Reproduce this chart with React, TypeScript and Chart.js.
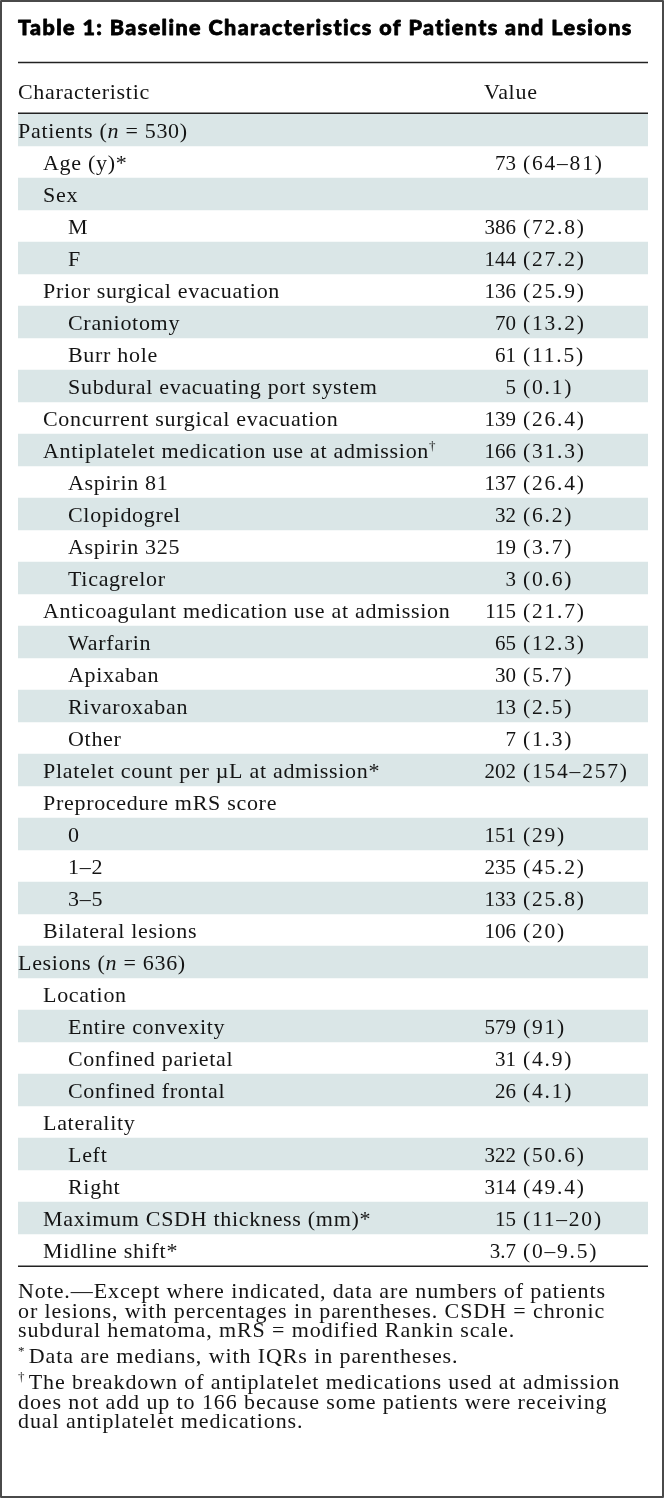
import React, { useEffect, useRef } from "react";
import { Chart, registerables } from "chart.js";

Chart.register(...registerables);

// ---------- data ----------
const TITLE = "Table 1: Baseline Characteristics of Patients and Lesions";
const HEADERS = ["Characteristic", "Value"];

const CHARACTERISTICS = [
  "Patients (_n_ = 530)",
  "Age (y)*",
  "Sex",
  "M",
  "F",
  "Prior surgical evacuation",
  "Craniotomy",
  "Burr hole",
  "Subdural evacuating port system",
  "Concurrent surgical evacuation",
  "Antiplatelet medication use at admission^{†}",
  "Aspirin 81",
  "Clopidogrel",
  "Aspirin 325",
  "Ticagrelor",
  "Anticoagulant medication use at admission",
  "Warfarin",
  "Apixaban",
  "Rivaroxaban",
  "Other",
  "Platelet count per µL at admission*",
  "Preprocedure mRS score",
  "0",
  "1–2",
  "3–5",
  "Bilateral lesions",
  "Lesions (_n_ = 636)",
  "Location",
  "Entire convexity",
  "Confined parietal",
  "Confined frontal",
  "Laterality",
  "Left",
  "Right",
  "Maximum CSDH thickness (mm)*",
  "Midline shift*",
];

const LEVELS = [0, 1, 1, 2, 2, 1, 2, 2, 2, 1, 1, 2, 2, 2, 2, 1, 2, 2, 2, 2, 1, 1, 2, 2, 2, 1, 0, 1, 2, 2, 2, 1, 2, 2, 1, 1];

const COUNTS = [
  "", "73", "", "386", "144", "136", "70", "61", "5", "139",
  "166", "137", "32", "19", "3", "115", "65", "30", "13", "7",
  "202", "", "151", "235", "133", "106", "", "", "579", "31",
  "26", "", "322", "314", "15", "3.7",
];

const SPREADS = [
  "", "(64–81)", "", "(72.8)", "(27.2)", "(25.9)", "(13.2)", "(11.5)", "(0.1)", "(26.4)",
  "(31.3)", "(26.4)", "(6.2)", "(3.7)", "(0.6)", "(21.7)", "(12.3)", "(5.7)", "(2.5)", "(1.3)",
  "(154–257)", "", "(29)", "(45.2)", "(25.8)", "(20)", "", "", "(91)", "(4.9)",
  "(4.1)", "", "(50.6)", "(49.4)", "(11–20)", "(0–9.5)",
];

const NOTES = [
  [
    "Note.—Except where indicated, data are numbers of patients",
    "or lesions, with percentages in parentheses. CSDH = chronic",
    "subdural hematoma, mRS = modified Rankin scale.",
  ],
  ["^{* }Data are medians, with IQRs in parentheses."],
  [
    "^{† }The breakdown of antiplatelet medications used at admission",
    "does not add up to 166 because some patients were receiving",
    "dual antiplatelet medications.",
  ],
];

// ---------- style ----------
const W = 666;
const H = 1499;
const SERIF = '"Liberation Serif", "Times New Roman", serif';
const SANS = '"Lato Black", Lato, "Noto Sans", "DejaVu Sans", sans-serif';
const INK = "#141414";
const SHADE = "#dae6e7";
const RULE = "#222222";
const BORDER = "#4a4a4a";
const LEFT = 18;
const RIGHT = 648;
const INDENT = 25;
const BODY_SIZE = 22;
const BODY_SPACING = 0.7;
const NOTE_SPACING = 0.9;
const COUNT_SIZE = 21;
const SPREAD_SIZE = 21.5;
const VALUE_RIGHT = 516;
const SPREAD_LEFT = 523;
const SPREAD_SPACING = 1.8;
const HEADER_VALUE_X = 484;

type Seg = { t: string; k: "n" | "i" | "s" };

function parseRich(s: string): Seg[] {
  const out: Seg[] = [];
  const re = /_([^_]+)_|\^\{([^}]*)\}/g;
  let last = 0;
  let m: RegExpExecArray | null;
  while ((m = re.exec(s))) {
    if (m.index > last) out.push({ t: s.slice(last, m.index), k: "n" });
    if (m[1] !== undefined) out.push({ t: m[1], k: "i" });
    else out.push({ t: m[2], k: "s" });
    last = re.lastIndex;
  }
  if (last < s.length) out.push({ t: s.slice(last), k: "n" });
  return out;
}

const plain = (s: string) => parseRich(s).map((p) => p.t).join("");

function setSpacing(ctx: any, px: number) {
  if ("letterSpacing" in ctx) ctx.letterSpacing = `${px}px`;
}

function drawRich(ctx: CanvasRenderingContext2D, s: string, x: number, y: number, size: number, spacing: number) {
  for (const p of parseRich(s)) {
    const fs = p.k === "s" ? Math.round(size * 0.6) : size;
    ctx.font = `${p.k === "i" ? "italic " : ""}${fs}px ${SERIF}`;
    setSpacing(ctx, p.k === "s" ? 0.5 : spacing);
    const dy = p.k === "s" ? -size * 0.36 : 0;
    ctx.fillText(p.t, x, y + dy);
    x += ctx.measureText(p.t).width;
  }
  return x;
}

const tablePlugin = {
  id: "tableText",
  beforeDraw(chart: any) {
    const ctx = chart.ctx as CanvasRenderingContext2D;
    ctx.save();
    ctx.fillStyle = "#ffffff";
    ctx.fillRect(0, 0, chart.width, chart.height);
    ctx.restore();
  },
  afterDatasetsDraw(chart: any) {
    const ctx = chart.ctx as CanvasRenderingContext2D;
    const yScale = chart.scales.y;
    const area = chart.chartArea;
    ctx.save();
    ctx.textBaseline = "alphabetic";

    // title, fitted to the text block width, slightly emboldened
    ctx.textAlign = "left";
    ctx.font = `900 21.5px ${SANS}`;
    setSpacing(ctx, 0);
    const tw = ctx.measureText(TITLE).width;
    const titleTarget = 614;
    setSpacing(ctx, Math.max(-1.5, Math.min(3, (titleTarget - tw) / (TITLE.length - 1))));
    ctx.fillStyle = "#000";
    ctx.strokeStyle = "#000";
    ctx.lineWidth = 0.8;
    ctx.lineJoin = "round";
    ctx.fillText(TITLE, LEFT, 35);
    ctx.strokeText(TITLE, LEFT, 35);
    ctx.fillStyle = INK;

    // rules
    ctx.strokeStyle = RULE;
    ctx.lineWidth = 1.5;
    const hline = (y: number) => {
      ctx.beginPath();
      ctx.moveTo(LEFT, y);
      ctx.lineTo(RIGHT, y);
      ctx.stroke();
    };
    hline(62.5);
    hline(area.top - 0.8);
    hline(area.bottom + 0.2);

    // header
    drawRich(ctx, HEADERS[0], LEFT, 99, BODY_SIZE, BODY_SPACING);
    drawRich(ctx, HEADERS[1], HEADER_VALUE_X, 99, BODY_SIZE, BODY_SPACING);

    // rows
    CHARACTERISTICS.forEach((lab, i) => {
      const cy = yScale.getPixelForValue(i);
      const base = cy + 8;
      ctx.textAlign = "left";
      drawRich(ctx, lab, LEFT + LEVELS[i] * INDENT, base, BODY_SIZE, BODY_SPACING);
      if (COUNTS[i]) {
        ctx.font = `${COUNT_SIZE}px ${SERIF}`;
        setSpacing(ctx, 0);
        ctx.textAlign = "right";
        ctx.fillText(COUNTS[i], VALUE_RIGHT, base);
        ctx.textAlign = "left";
        ctx.font = `${SPREAD_SIZE}px ${SERIF}`;
        setSpacing(ctx, SPREAD_SPACING);
        ctx.fillText(SPREADS[i], SPREAD_LEFT, base);
      }
    });

    // notes
    ctx.textAlign = "left";
    let y = 1298;
    NOTES.forEach((para, pi) => {
      if (pi > 0) y += 6;
      para.forEach((line) => {
        drawRich(ctx, line, LEFT, y, BODY_SIZE, NOTE_SPACING);
        y += 19.7;
      });
    });

    // outer border
    ctx.strokeStyle = BORDER;
    ctx.lineWidth = 2;
    ctx.strokeRect(1, 1, 662, 1496);
    ctx.restore();
  },
};

export default function App() {
  const ref = useRef<HTMLCanvasElement | null>(null);
  useEffect(() => {
    if (!ref.current) return;
    const chart = new Chart(ref.current, {
      type: "bar",
      data: {
        labels: CHARACTERISTICS.map(plain),
        datasets: [
          {
            label: "Row band",
            data: CHARACTERISTICS.map(() => 1),
            backgroundColor: (c: any) => (c.dataIndex % 2 === 0 ? SHADE : "rgba(0,0,0,0)"),
            borderWidth: 0,
            barPercentage: 1,
            categoryPercentage: 1,
          },
        ],
      },
      options: {
        indexAxis: "y",
        responsive: false,
        maintainAspectRatio: false,
        animation: false,
        devicePixelRatio: 1,
        events: [],
        layout: { padding: { left: LEFT, right: W - RIGHT, top: 114, bottom: H - 1266 } },
        plugins: { legend: { display: false }, tooltip: { enabled: false }, title: { display: false } },
        scales: {
          x: { type: "linear", min: 0, max: 1, display: false },
          y: { type: "category", display: false, offset: true },
        },
      },
      plugins: [tablePlugin],
    } as any);
    return () => chart.destroy();
  }, []);
  return (
    <div style={{ position: "absolute", left: 0, top: 0, width: W, height: H, background: "#fff" }}>
      <canvas ref={ref} width={W} height={H} style={{ width: W, height: H, display: "block" }} />
    </div>
  );
}
